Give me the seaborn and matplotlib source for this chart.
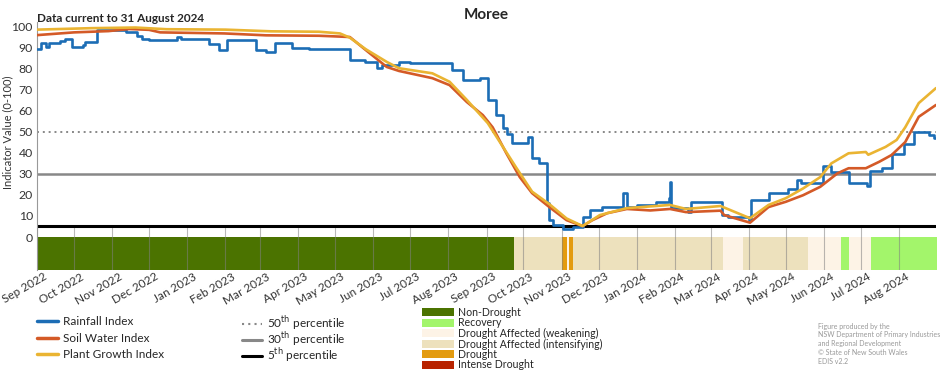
import numpy as np
import pandas as pd
import seaborn as sns
import matplotlib.pyplot as plt
import matplotlib.dates as mdates
import matplotlib.transforms as mtransforms
from matplotlib.lines import Line2D
from matplotlib.patches import Patch

# ---------------------------------------------------------------
# Values (Moree, Sep 2022 - Aug 2024)
rain_dates = ['2022-09-01', '2022-09-04', '2022-09-08', '2022-09-11', '2022-09-20', '2022-09-24',
              '2022-09-29', '2022-10-08', '2022-10-10', '2022-10-20', '2022-11-12', '2022-11-21',
              '2022-11-25', '2022-12-01', '2022-12-24', '2022-12-27', '2023-01-19', '2023-01-27',
              '2023-02-02', '2023-02-26', '2023-03-06', '2023-03-13', '2023-03-27', '2023-04-10',
              '2023-05-13', '2023-05-25', '2023-06-04', '2023-06-08', '2023-06-22', '2023-07-01',
              '2023-08-04', '2023-08-13', '2023-08-27', '2023-09-02', '2023-09-09', '2023-09-14',
              '2023-09-18', '2023-09-22', '2023-10-05', '2023-10-08', '2023-10-14', '2023-10-20',
              '2023-10-22', '2023-10-25', '2023-11-02', '2023-11-10', '2023-11-18', '2023-11-24',
              '2023-12-04', '2023-12-21', '2023-12-24', '2024-01-01', '2024-01-17', '2024-01-27',
              '2024-01-28', '2024-01-29', '2024-02-12', '2024-02-14', '2024-03-10', '2024-03-15',
              '2024-04-01', '2024-04-03', '2024-04-17', '2024-05-03', '2024-05-10', '2024-05-13',
              '2024-05-31', '2024-06-07', '2024-06-21', '2024-07-06', '2024-07-08', '2024-07-18',
              '2024-07-26', '2024-08-05', '2024-08-13', '2024-08-25', '2024-08-29', '2024-08-31']
rain_values = [89, 92, 90, 92, 93, 94,
               90, 91, 92.5, 98, 97, 95.5,
               94, 93.4, 95, 93.7, 91.5, 88.6,
               93.4, 88.5, 87.8, 92.2, 89.7, 89.1,
               84, 83, 80, 81.5, 83, 82.5,
               79, 74.5, 75.5, 65, 57.8, 51.6,
               49, 44.5, 47.5, 37.4, 35, 16,
               8, 5.7, 4, 4.7, 9.5, 12.8,
               14.2, 21, 14.2, 15, 16.7, 18.4,
               26, 13.6, 12, 16.7, 10.4, 9.5,
               8, 17.5, 21, 23, 27, 25.7,
               33.7, 30.7, 25.7, 24, 31.4, 32.8,
               39.4, 44, 49.6, 48.5, 47, 47]

soil_dates = ['2022-09-01', '2022-10-01', '2022-10-29', '2022-11-15', '2022-12-01', '2022-12-10',
              '2023-01-31', '2023-03-06', '2023-04-18', '2023-05-05', '2023-05-13', '2023-05-26',
              '2023-06-12', '2023-06-22', '2023-07-19', '2023-08-02', '2023-08-16', '2023-08-29',
              '2023-09-06', '2023-09-17', '2023-09-28', '2023-10-08', '2023-10-22', '2023-11-05',
              '2023-11-18', '2023-11-26', '2023-12-08', '2023-12-24', '2024-01-12', '2024-01-28',
              '2024-02-10', '2024-03-09', '2024-03-12', '2024-04-02', '2024-04-17', '2024-05-01',
              '2024-05-15', '2024-05-29', '2024-06-12', '2024-06-21', '2024-07-05', '2024-07-16',
              '2024-07-26', '2024-08-06', '2024-08-17', '2024-08-31']
soil_values = [95.7, 97, 97.6, 98.6, 98.2, 97,
               96.5, 95.6, 95.4, 95, 94.8, 88.6,
               80.6, 78.7, 75.3, 72, 64, 57.8,
               52, 39.8, 28.4, 20.8, 14.2, 8,
               5.2, 8, 11.3, 13.3, 12.6, 13.3,
               11.8, 12.5, 10.4, 6.8, 14.2, 16.7,
               19.8, 23.8, 30.2, 32.6, 32.6, 35.7,
               38.9, 45, 57, 62.6]

plant_dates = ['2022-09-01', '2022-10-15', '2022-11-20', '2022-12-15', '2023-02-01', '2023-03-10',
               '2023-04-18', '2023-05-05', '2023-05-13', '2023-05-26', '2023-06-12', '2023-06-22',
               '2023-07-19', '2023-08-02', '2023-08-16', '2023-09-02', '2023-09-25', '2023-10-08',
               '2023-10-22', '2023-11-05', '2023-11-18', '2023-12-02', '2023-12-24', '2024-01-28',
               '2024-02-10', '2024-03-09', '2024-04-02', '2024-04-17', '2024-05-01', '2024-05-15',
               '2024-05-29', '2024-06-07', '2024-06-21', '2024-07-05', '2024-07-07', '2024-07-21',
               '2024-07-30', '2024-08-06', '2024-08-17', '2024-08-31']
plant_values = [98.3, 99, 99.3, 98.5, 98.3, 97.5,
                97.3, 96.5, 94.5, 89, 83, 80,
                77.6, 73.6, 65, 54, 33, 21.5,
                15.6, 8.8, 5.2, 10.4, 13.7, 15.2,
                13.3, 14.7, 8.9, 15.2, 18.4, 23,
                28.4, 34.9, 39.7, 40.3, 39, 42.7,
                46, 52, 63.5, 70.6]

# drought category strip (start date of each segment)
band_starts = ['2022-09-01', '2023-09-23', '2023-11-01', '2023-11-05', '2023-11-07', '2023-11-10',
               '2024-03-11', '2024-03-27', '2024-05-19', '2024-06-15', '2024-06-21', '2024-07-09']
band_end = '2024-09-01'
band_classes = ['Non-Drought', 'Drought Affected (intensifying)', 'Drought',
                'Drought Affected (weakening)', 'Drought', 'Drought Affected (intensifying)',
                'Drought Affected (weakening)', 'Drought Affected (intensifying)',
                'Drought Affected (weakening)', 'Recovery', 'Drought Affected (weakening)', 'Recovery']

category_names = ['Non-Drought', 'Recovery', 'Drought Affected (weakening)',
                  'Drought Affected (intensifying)', 'Drought', 'Intense Drought']
category_colors = ['#4b7300', '#a3f56b', '#fdf3e6', '#ede1bd', '#e39b10', '#b82300']

percentile_levels = [50, 30, 5]

# ---------------------------------------------------------------
sns.set_style('white')
plt.rcParams['font.family'] = ['Lato', 'DejaVu Sans']

rain_color, soil_color, plant_color = '#1c6db5', '#d45a27', '#eab432'
cat_color = dict(zip(category_names, category_colors))
ymin = -15.5

fig = plt.figure(figsize=(9.52, 3.70), dpi=100)
ax = fig.add_axes([0.0389, 0.271, 0.9443, 0.670])

# drought strip under the zero line
starts = pd.to_datetime(band_starts)
ends = list(starts[1:]) + [pd.Timestamp(band_end)]
for s, e, c in zip(starts, ends, band_classes):
    ax.fill_between([s, e], ymin, 0, color=cat_color[c], lw=0, zorder=1)

month_ticks = pd.date_range('2022-09-01', '2024-08-01', freq='MS')
ax.vlines(month_ticks, ymin, 5, colors='gray', alpha=0.55, lw=0.8, zorder=1.5)

# percentile reference lines
ax.axhline(percentile_levels[0], color='#888888', ls=(0, (1, 2)), lw=1.4, zorder=1.6)
ax.axhline(percentile_levels[1], color='#888888', lw=1.8, zorder=1.6)
ax.axhline(percentile_levels[2], color='black', lw=2.2, zorder=1.6)

# index lines
rain = pd.DataFrame({'date': pd.to_datetime(rain_dates), 'value': rain_values})
soil = pd.DataFrame({'date': pd.to_datetime(soil_dates), 'value': soil_values})
plant = pd.DataFrame({'date': pd.to_datetime(plant_dates), 'value': plant_values})

sns.lineplot(data=rain, x='date', y='value', ax=ax, color=rain_color, lw=1.9,
             drawstyle='steps-post', estimator=None, zorder=3)
sns.lineplot(data=soil, x='date', y='value', ax=ax, color=soil_color, lw=1.9,
             estimator=None, zorder=3)
sns.lineplot(data=plant, x='date', y='value', ax=ax, color=plant_color, lw=1.9,
             estimator=None, zorder=3.1)

ax.set_xlim(pd.Timestamp('2022-09-01'), pd.Timestamp('2024-08-31'))
ax.set_ylim(ymin, 102)
ax.set_yticks(range(0, 101, 10))
ax.tick_params(axis='y', direction='in', length=7, color='#bbbbbb', labelsize=8.8,
               labelcolor='#333333', pad=3)
ax.set_xticks(month_ticks)
ax.xaxis.set_major_formatter(mdates.DateFormatter('%b %Y'))
ax.tick_params(axis='x', length=0, pad=1, labelsize=8.5, labelcolor='#333333')
offset = mtransforms.ScaledTranslation(6 / 100, 0, fig.dpi_scale_trans)
for lbl in ax.get_xticklabels():
    lbl.set_rotation(30)
    lbl.set_ha('right')
    lbl.set_va('top')
    lbl.set_rotation_mode('anchor')
    lbl.set_transform(lbl.get_transform() + offset)

ax.set_xlabel('')
ax.set_ylabel('Indicator Value (0-100)', fontsize=8, color='#333333')
ax.yaxis.set_label_coords(-0.026, 0.555)
for side in ['top', 'right', 'bottom']:
    ax.spines[side].set_visible(False)
ax.spines['left'].set_color('#999999')
ax.grid(False)

fig.text(486 / 952, 1 - 15 / 370, 'Moree', ha='center', va='center',
         fontsize=11, fontweight='bold')
fig.text(37 / 952, 1 - 18 / 370, 'Data current to 31 August 2024', ha='left', va='center',
         fontsize=8.5, fontweight='bold')

# legends
idx_handles = [Line2D([], [], color=c, lw=2.5) for c in [rain_color, soil_color, plant_color]]
fig.legend(idx_handles, ['Rainfall Index', 'Soil Water Index', 'Plant Growth Index'],
           loc='upper left', bbox_to_anchor=(37 / 952, 1 - 316 / 370), frameon=False,
           fontsize=8.5, handlelength=1.8, handletextpad=0.4, labelspacing=0.48,
           borderpad=0, borderaxespad=0)

pct_handles = [Line2D([], [], color='#888888', ls=(0, (1, 2)), lw=1.5),
               Line2D([], [], color='#888888', lw=2.2),
               Line2D([], [], color='black', lw=2.2)]
fig.legend(pct_handles, ['50$^{\\rm th}$ percentile', '30$^{\\rm th}$ percentile',
                         '5$^{\\rm th}$ percentile'],
           loc='upper left', bbox_to_anchor=(242 / 952, 1 - 314 / 370), frameon=False,
           fontsize=8.5, handlelength=1.7, handletextpad=0.4, labelspacing=-0.16,
           borderpad=0, borderaxespad=0)

cat_handles = [Patch(facecolor=c, edgecolor='none') for c in category_colors]
fig.legend(cat_handles, category_names, loc='upper left',
           bbox_to_anchor=(422 / 952, 1 - 307 / 370), frameon=False, fontsize=7.6,
           handlelength=3.0, handleheight=0.75, handletextpad=0.4, labelspacing=-0.05,
           borderpad=0, borderaxespad=0)

footer = ['Figure produced by the', 'NSW Department of Primary Industries',
          'and Regional Development', '\u00a9 State of New South Wales', 'EDIS v2.2']
for i, line in enumerate(footer):
    fig.text(818 / 952, 1 - (326 + 8.8 * i) / 370, line, ha='left', va='center',
             fontsize=5, color='#999999')

fig.savefig('out.png', dpi=100)
